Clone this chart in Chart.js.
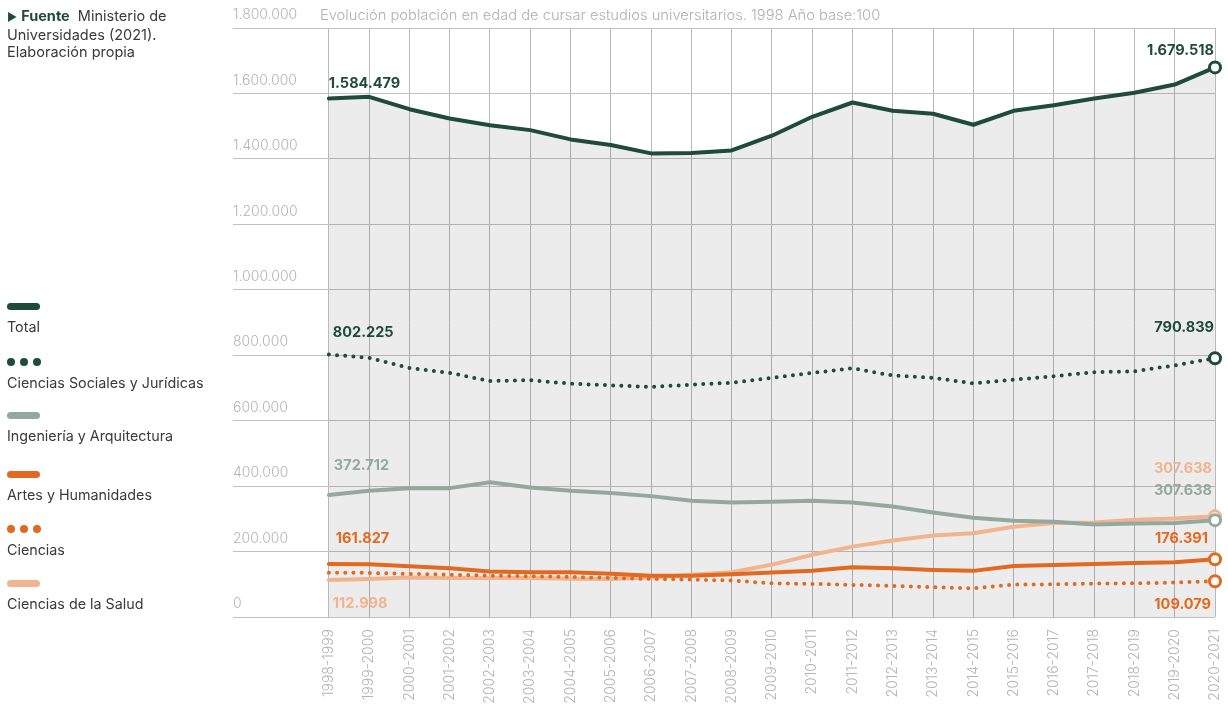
<!DOCTYPE html>
<html lang="es">
<head>
<meta charset="utf-8">
<title>Evolución población universitaria</title>
<script src="https://cdn.jsdelivr.net/npm/chart.js@4.4.1/dist/chart.umd.min.js"></script>
<style>
  body { margin: 0; background: #fff; font-family: Inter, 'Noto Sans', sans-serif; }
  #wrap { position: relative; width: 1228px; height: 712px; }
  #grafico { position: absolute; left: 0; top: 0; }
  .fuente { position: absolute; left: 7px; top: 7px; font-size: 14.5px; line-height: 17px; color: #3a3a3a; }
  .fuente b { color: #1e4b3a; font-weight: 700; }
  .fuente .flecha { color: #1e4b3a; font-size: 11px; }
  .titulo { position: absolute; left: 320px; top: 7px; font-size: 14.7px; line-height: 17px; color: #b0b0b0; font-weight: 300; }
  .leyenda { position: absolute; left: 7px; top: 0; }
  .item { position: absolute; left: 0; white-space: nowrap; }
  .linea { width: 33px; height: 7px; border-radius: 4px; }
  .puntos { display: flex; gap: 5px; height: 8px; margin-top: -0.5px; }
  .puntos span { width: 8px; height: 8px; border-radius: 50%; }
  .nombre { margin-top: 8px; font-size: 14.3px; line-height: 17px; color: #3a3a3a; }
</style>
</head>
<body>
<div id="wrap">
  <canvas id="grafico" width="1228" height="712"></canvas>
  <div class="fuente"><span class="flecha">&#9654;</span> <b>Fuente</b>&nbsp; Ministerio de<br>Universidades (2021).<br>Elaboración propia</div>
  <div class="titulo">Evolución población en edad de cursar estudios universitarios. 1998 Año base:100</div>
  <div class="leyenda" id="leyenda"></div>
</div>
<script>
// datos
const cursos = ['1998-1999', '1999-2000', '2000-2001', '2001-2002', '2002-2003', '2003-2004',
  '2004-2005', '2005-2006', '2006-2007', '2007-2008', '2008-2009', '2009-2010', '2010-2011',
  '2011-2012', '2012-2013', '2013-2014', '2014-2015', '2015-2016', '2016-2017', '2017-2018',
  '2018-2019', '2019-2020', '2020-2021'];

const total = [1584479, 1589700, 1551900, 1523500, 1503100, 1487900, 1459500, 1442200, 1416800,
  1418000, 1426000, 1470800, 1528700, 1572300, 1547000, 1537800, 1504300, 1547000, 1564100,
  1584500, 1601900, 1627200, 1679518];

const socialesJuridicas = [802225, 792000, 761000, 746000, 721000, 724000, 713000, 708000, 703000,
  710000, 716000, 731000, 746000, 760000, 738000, 731000, 714000, 725000, 736000, 748000, 751000,
  769000, 790839];

const ingenieria = [372712, 385600, 393800, 393800, 412000, 395600, 385600, 378600, 369400, 355000,
  350000, 352000, 355000, 350000, 337700, 319400, 303300, 294000, 291000, 282900, 286000, 287000,
  296000];

const artes = [161827, 161000, 155000, 149000, 139000, 137000, 137000, 132000, 126000, 126000,
  131000, 136000, 141000, 152000, 149000, 144000, 141000, 156000, 159000, 162000, 165000, 167000,
  176391];

const ciencias = [135600, 134700, 131700, 129500, 126500, 124400, 122500, 119500, 116400, 114300,
  111300, 103000, 101200, 98100, 95100, 90800, 87800, 99000, 100000, 102100, 103000, 105200,
  109079];

const salud = [112998, 116000, 121000, 119000, 119000, 119000, 117000, 116000, 121000, 129000,
  137000, 160000, 190000, 215000, 234000, 249000, 256000, 276000, 287000, 289000, 297000, 301000,
  307638];

const ticksY = [0, 200000, 400000, 600000, 800000, 1000000, 1200000, 1400000, 1600000, 1800000];

const nombres = ['Total', 'Ciencias Sociales y Jurídicas', 'Ingeniería y Arquitectura',
  'Artes y Humanidades', 'Ciencias', 'Ciencias de la Salud'];
const colores = ['#1e4b3a', '#1e4b3a', '#94a89e', '#e2691f', '#e2691f', '#f2b48e'];
const punteada = [false, true, false, false, true, false];
const series = [total, socialesJuridicas, ingenieria, artes, ciencias, salud];

// posición vertical de cada entrada de la leyenda
const topLeyenda = [303, 358, 412, 471, 525, 580];

// etiquetas de inicio y fin (serie, punto, texto)
const etiquetas = [
  { serie: 0, punto: 0, texto: '1.584.479', align: 'left', dx: 0, dy: -15 },
  { serie: 0, punto: 22, texto: '1.679.518', align: 'right', dx: -1, dy: -17 },
  { serie: 1, punto: 0, texto: '802.225', align: 'left', dx: 4, dy: -22 },
  { serie: 1, punto: 22, texto: '790.839', align: 'right', dx: -1, dy: -31 },
  { serie: 2, punto: 0, texto: '372.712', align: 'left', dx: 5, dy: -29 },
  { serie: 2, punto: 22, texto: '307.638', align: 'right', dx: -3, dy: -30 },
  { serie: 5, punto: 22, texto: '307.638', align: 'right', dx: -3, dy: -48 },
  { serie: 3, punto: 0, texto: '161.827', align: 'left', dx: 7, dy: -25 },
  { serie: 3, punto: 22, texto: '176.391', align: 'right', dx: -7, dy: -21 },
  { serie: 5, punto: 0, texto: '112.998', align: 'left', dx: 4, dy: 24 },
  { serie: 4, punto: 22, texto: '109.079', align: 'right', dx: -4, dy: 23 }
];

const miles = v => String(v).replace(/\B(?=(\d{3})+(?!\d))/g, '.');

// leyenda en html
const leyenda = document.getElementById('leyenda');
nombres.forEach((n, i) => {
  const item = document.createElement('div');
  item.className = 'item';
  item.style.top = topLeyenda[i] + 'px';
  let simbolo;
  if (punteada[i]) {
    simbolo = '<div class="puntos">' +
      `<span style="background:${colores[i]}"></span>`.repeat(3) + '</div>';
  } else {
    simbolo = `<div class="linea" style="background:${colores[i]}"></div>`;
  }
  item.innerHTML = simbolo + `<div class="nombre">${n}</div>`;
  leyenda.appendChild(item);
});

const datasets = series.map((s, i) => ({
  label: nombres[i],
  data: s.map((v, k) => ({ x: k, y: v })),
  borderColor: colores[i],
  borderWidth: 4,
  borderDash: punteada[i] ? [0, 8.2] : [],
  borderCapStyle: 'round',
  borderJoinStyle: 'round',
  fill: i === 0 ? 'origin' : false,
  backgroundColor: 'rgba(0,0,0,0.075)',
  pointRadius: ctx => ctx.dataIndex === s.length - 1 ? 5.5 : 0,
  pointBorderWidth: 3,
  pointBorderColor: colores[i],
  pointBackgroundColor: '#fff',
  pointHoverRadius: 0,
  clip: false
}));

const pluginEtiquetas = {
  id: 'etiquetas',
  afterDatasetsDraw(chart) {
    const ctx = chart.ctx;
    ctx.save();
    ctx.font = '700 14.5px Inter, sans-serif';
    ctx.textBaseline = 'middle';
    etiquetas.forEach(e => {
      const p = chart.getDatasetMeta(e.serie).data[e.punto];
      ctx.fillStyle = colores[e.serie];
      ctx.textAlign = e.align;
      ctx.fillText(e.texto, p.x + e.dx, p.y + e.dy);
    });
    ctx.restore();
  }
};

new Chart(document.getElementById('grafico'), {
  type: 'line',
  data: { datasets },
  plugins: [pluginEtiquetas],
  options: {
    responsive: false,
    animation: false,
    events: [],
    layout: { padding: { left: 233, right: 13, top: 28, bottom: 6 } },
    plugins: {
      legend: { display: false },
      tooltip: { enabled: false },
      filler: { drawTime: 'beforeDatasetsDraw' }
    },
    scales: {
      x: {
        type: 'linear',
        min: -2.38,
        max: cursos.length - 1,
        afterBuildTicks: sc => { sc.ticks = cursos.map((_, i) => ({ value: i })); },
        afterFit: sc => { sc.paddingLeft = 0; sc.paddingRight = 0; sc.height = 89; },
        grid: { color: '#b9b9b9', lineWidth: 1, drawTicks: false },
        border: { display: false },
        ticks: {
          autoSkip: false,
          minRotation: 90,
          maxRotation: 90,
          padding: 12,
          color: '#b4b4b4',
          font: { family: 'Inter', size: 14, weight: 300 },
          callback: v => cursos[v]
        }
      },
      y: {
        min: 0,
        max: ticksY[ticksY.length - 1],
        afterBuildTicks: sc => { sc.ticks = ticksY.map(v => ({ value: v })); },
        grid: { color: '#c2c2c2', lineWidth: 1, drawTicks: false },
        border: { display: false },
        ticks: {
          mirror: true,
          padding: 0,
          labelOffset: -13,
          color: '#b4b4b4',
          font: { family: 'Inter', size: 14, weight: 300 },
          callback: v => miles(v)
        }
      }
    }
  }
});
</script>
</body>
</html>
